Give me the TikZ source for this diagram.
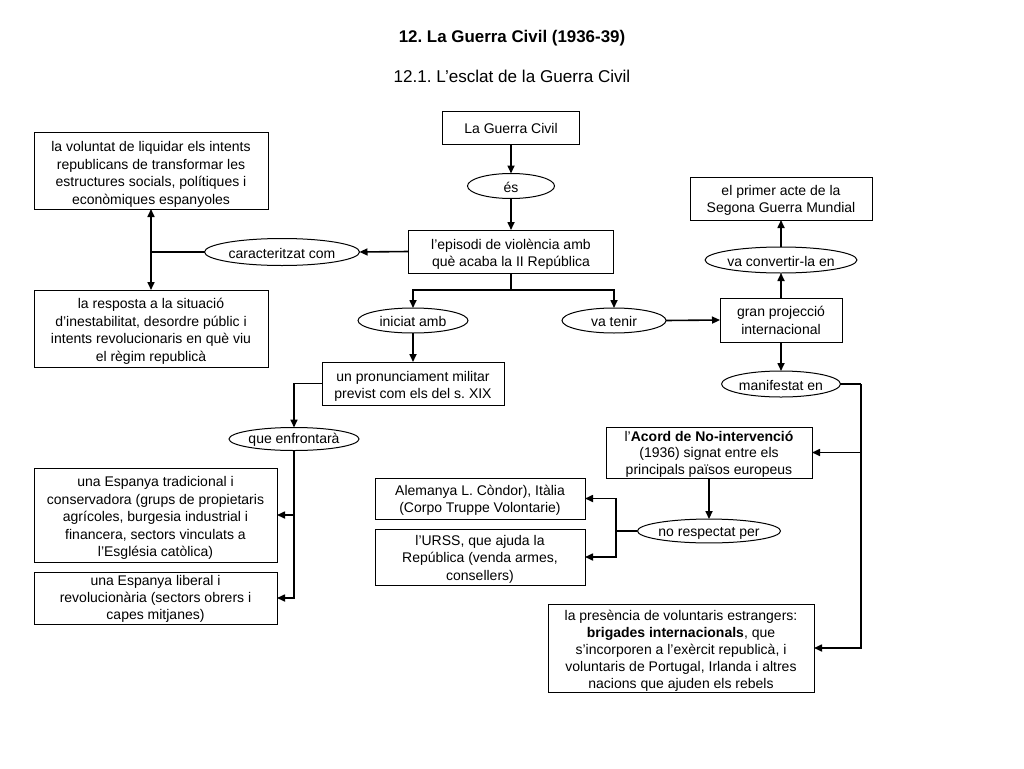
\documentclass[tikz,border=0pt]{standalone}
\usepackage{fontspec}
\setmainfont{Liberation Sans}
\usetikzlibrary{shapes.geometric,arrows.meta}
\frenchspacing
\newcommand\mltext[2][3pt]{\raisebox{-#1}[\height][\depth]{\begin{tabular}{@{}c@{}}#2\end{tabular}}}
\begin{document}
\begin{tikzpicture}[x=1pt,y=-1pt,
  every node/.style={inner sep=0pt,outer sep=0pt,align=center,font=\fontsize{14}{17.5}\selectfont},
  lift/.style={execute at begin node={\rule{0pt}{#1}}},
  box/.style={draw,line width=1pt},
  sbox/.style={draw,line width=1pt,lift=12.5pt},
  oval/.style={draw,ellipse,line width=1pt,lift=12.5pt},
  conn/.style={line width=1.6pt},
  arr/.style={conn,-{Triangle[length=8pt,width=7pt]}}]
\fill[white] (0,0) rectangle (1024,768);
\useasboundingbox (0,0) rectangle (1024,768);
\node[font=\fontsize{16.9}{19}\selectfont\bfseries] (title) at (512,38) {12. La Guerra Civil (1936-39)};
\node[font=\fontsize{17.1}{19}\selectfont] (subtitle) at (512,76) {12.1. L’esclat de la Guerra Civil};
% boxes
\node[sbox,minimum width=137pt,minimum height=33pt] (guerra) at (511,127.5) {La Guerra Civil};
\node[oval,minimum width=87pt,minimum height=25pt] (es) at (511,186) {és};
\node[box,minimum width=205pt,minimum height=43pt] (episodi) at (511,251.5) {\mltext{l’episodi de violència amb\\què acaba la II República}};
\node[oval,minimum width=155pt,minimum height=27pt] (caract) at (282,252) {caracteritzat com};
\node[box,minimum width=234pt,minimum height=77pt] (voluntat) at (151,170.5) {\mltext[4pt]{la voluntat de liquidar els intents\\republicans de transformar les\\estructures socials, polítiques i\\econòmiques espanyoles}};
\node[box,minimum width=234pt,minimum height=77pt] (resposta) at (151,328.5) {\mltext{la resposta a la situació\\d’inestabilitat, desordre públic i\\intents revolucionaris en què viu\\el règim republicà}};
\node[oval,minimum width=110pt,minimum height=25pt] (iniciat) at (413,320.5) {iniciat amb};
\node[oval,minimum width=104pt,minimum height=25pt] (vatenir) at (614,320.5) {va tenir};
\node[box,minimum width=182pt,minimum height=43pt] (pronun) at (413,383.5) {\mltext{un pronunciament militar\\previst com els del s. XIX}};
\node[oval,minimum width=130pt,minimum height=23pt] (enfr) at (294,439) {que enfrontarà};
\node[box,minimum width=243pt,minimum height=94pt] (trad) at (155.5,515) {\mltext{una Espanya tradicional i\\conservadora (grups de propietaris\\agrícoles, burgesia industrial i\\financera, sectors vinculats a\\l’Església catòlica)}};
\node[box,minimum width=243pt,minimum height=52pt,font=\fontsize{14}{17}\selectfont] (liberal) at (155.5,598) {\mltext[1.5pt]{una Espanya liberal i\\revolucionària (sectors obrers i\\capes mitjanes)}};
\node[box,minimum width=122pt,minimum height=44pt] (gran) at (781,320) {\mltext[2pt]{gran projecció\\internacional}};
\node[oval,minimum width=127pt,minimum height=26pt] (convert) at (781,260) {va convertir-la en};
\node[box,minimum width=182pt,minimum height=43pt] (primer) at (781,198.5) {\mltext[2pt]{el primer acte de la\\Segona Guerra Mundial}};
\node[oval,minimum width=113pt,minimum height=26pt] (manif) at (781,384) {manifestat en};
\node[box,minimum width=206pt,minimum height=51pt,font=\fontsize{14}{16.5}\selectfont] (acord) at (709,452.5) {\mltext[2pt]{l’\textbf{Acord de No-intervenció}\\(1936) signat entre els\\principals països europeus}};
\node[oval,lift=14pt,minimum width=122pt,minimum height=23pt] (noresp) at (709,531) {no respectat per};
\node[box,minimum width=210pt,minimum height=41pt] (alem) at (480,498.5) {\mltext[2pt]{Alemanya L. Còndor), Itàlia\\(Corpo Truppe Volontarie)}};
\node[box,minimum width=210pt,minimum height=56pt] (urss) at (480,557) {\mltext[2pt]{l’URSS, que ajuda la\\República (venda armes,\\consellers)}};
\node[box,minimum width=266pt,minimum height=88pt,font=\fontsize{14}{17.2}\selectfont] (pres) at (681,648) {\mltext[3pt]{la presència de voluntaris estrangers:\\\textbf{brigades internacionals}, que\\s’incorporen a l’exèrcit republicà, i\\voluntaris de Portugal, Irlanda i altres\\nacions que ajuden els rebels}};
% connectors
\draw[arr] (guerra) -- (es);
\draw[arr] (es) -- (episodi);
\draw[arr] (episodi.west) -- (caract.east);
\coordinate (cj) at (151,252);
\draw[conn] (caract.west) -- (cj);
\draw[arr] (cj) -- (voluntat.south);
\draw[arr] (cj) -- (resposta.north);
\coordinate (ej) at (511,290);
\draw[conn] (episodi.south) -- (ej);
\draw[arr] (ej) -| (iniciat.north);
\draw[arr] (ej) -| (vatenir.north);
\draw[arr] (iniciat) -- (pronun);
\draw[arr] (pronun.west) -| (enfr.north);
\draw[arr] (enfr.south) |- (liberal.east);
\draw[arr] (enfr.south |- trad.east) -- (trad.east);
\draw[arr] (vatenir.east) -- (gran.west);
\draw[arr] (gran) -- (convert);
\draw[arr] (convert) -- (primer);
\draw[arr] (gran) -- (manif);
\coordinate (mj) at (861,384);
\draw[conn] (manif.east) -- (mj);
\draw[arr] (mj) |- (acord.east);
\draw[arr] (mj) |- (pres.east);
\draw[arr] (acord) -- (noresp);
\coordinate (nj) at (616,531);
\draw[conn] (noresp.west) -- (nj);
\draw[arr] (nj) |- (alem.east);
\draw[arr] (nj) |- (urss.east);
\end{tikzpicture}
\end{document}
